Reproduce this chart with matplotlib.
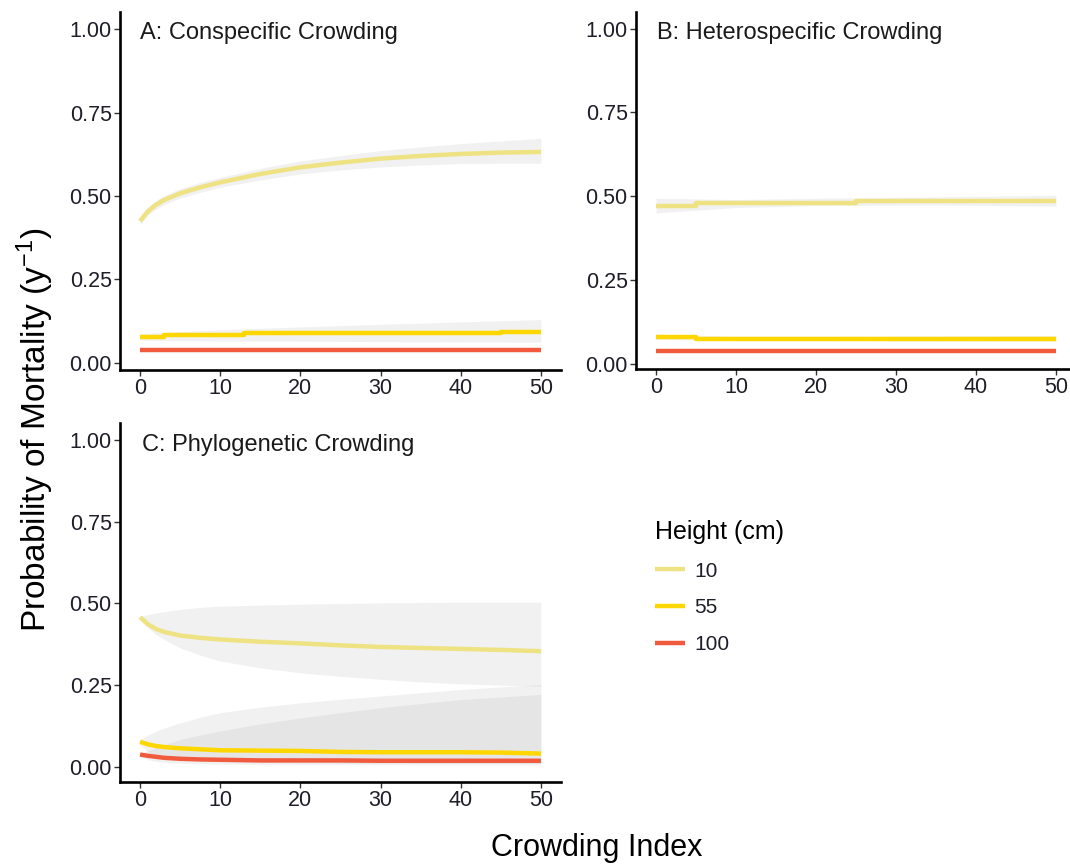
import matplotlib
matplotlib.use("Agg")
import matplotlib.pyplot as plt
import numpy as np

plt.rcParams['font.family'] = ['Liberation Sans', 'DejaVu Sans']
plt.rcParams['mathtext.fontset'] = 'custom'
plt.rcParams['mathtext.rm'] = 'Liberation Sans'
plt.rcParams['mathtext.it'] = 'Liberation Sans:italic'

# ---------------- data ----------------
heights = ["10", "55", "100"]
colors = ["#EFE283", "#FFD700", "#F15A3C"]

# Panel A: conspecific crowding
xa = [0, 1, 2, 3, 5, 7.5, 10, 15, 20, 25, 30, 35, 40, 45, 50]
a10 = [0.425, 0.455, 0.474, 0.488, 0.508, 0.526, 0.541, 0.566, 0.586, 0.600, 0.612, 0.620, 0.626, 0.630, 0.632]
a10_lo = [0.415, 0.443, 0.461, 0.474, 0.494, 0.511, 0.526, 0.548, 0.566, 0.578, 0.587, 0.593, 0.597, 0.598, 0.598]
a10_hi = [0.435, 0.467, 0.487, 0.502, 0.522, 0.541, 0.556, 0.583, 0.605, 0.621, 0.636, 0.647, 0.657, 0.665, 0.673]
xa55 = [0, 3, 13, 45, 50]
a55 = [0.078, 0.084, 0.089, 0.094, 0.094]
xa_r = [0, 10, 20, 30, 40, 50]
a55_lo = [0.068, 0.066, 0.065, 0.064, 0.063, 0.062]
a55_hi = [0.088, 0.100, 0.108, 0.116, 0.123, 0.130]
a100 = [0.039, 0.039, 0.039, 0.039, 0.039, 0.039]
a100_lo = [0.034, 0.034, 0.034, 0.034, 0.034, 0.034]
a100_hi = [0.044, 0.044, 0.044, 0.044, 0.044, 0.044]

# Panel B: heterospecific crowding
xb10 = [0, 5, 25, 50]
b10 = [0.472, 0.479, 0.485, 0.485]
xb_r = [0, 10, 20, 35, 50]
b10_lo = [0.450, 0.466, 0.472, 0.474, 0.470]
b10_hi = [0.494, 0.490, 0.494, 0.498, 0.503]
xb55 = [0, 5, 50]
b55 = [0.080, 0.075, 0.075]
b55_lo = [0.072, 0.069, 0.069, 0.068, 0.067]
b55_hi = [0.088, 0.082, 0.082, 0.083, 0.084]
b100 = [0.037, 0.037, 0.037, 0.037, 0.037]
b100_lo = [0.033, 0.033, 0.033, 0.033, 0.033]
b100_hi = [0.041, 0.041, 0.041, 0.041, 0.041]

# Panel C: phylogenetic crowding
xc = [0, 1, 2, 3, 5, 7.5, 10, 15, 20, 25, 30, 35, 40, 45, 50]
c10 = [0.458, 0.436, 0.422, 0.413, 0.402, 0.395, 0.390, 0.383, 0.378, 0.372, 0.367, 0.364, 0.361, 0.358, 0.354]
c10_lo = [0.455, 0.425, 0.405, 0.390, 0.364, 0.342, 0.324, 0.303, 0.288, 0.277, 0.268, 0.260, 0.254, 0.250, 0.247]
c10_hi = [0.461, 0.466, 0.471, 0.475, 0.482, 0.488, 0.492, 0.495, 0.498, 0.500, 0.502, 0.503, 0.504, 0.504, 0.504]
c55 = [0.077, 0.069, 0.064, 0.061, 0.057, 0.054, 0.051, 0.050, 0.049, 0.046, 0.045, 0.045, 0.045, 0.044, 0.041]
c55_lo = [0.070, 0.045, 0.035, 0.028, 0.022, 0.018, 0.016, 0.014, 0.013, 0.012, 0.012, 0.011, 0.011, 0.011, 0.010]
c55_hi = [0.084, 0.098, 0.110, 0.119, 0.135, 0.152, 0.166, 0.183, 0.196, 0.207, 0.217, 0.227, 0.237, 0.245, 0.252]
c100 = [0.038, 0.034, 0.031, 0.028, 0.025, 0.023, 0.022, 0.020, 0.020, 0.020, 0.019, 0.019, 0.019, 0.019, 0.019]
c100_lo = [0.034, 0.022, 0.017, 0.014, 0.011, 0.010, 0.009, 0.008, 0.008, 0.008, 0.007, 0.007, 0.007, 0.007, 0.007]
c100_hi = [0.042, 0.050, 0.060, 0.068, 0.084, 0.098, 0.110, 0.132, 0.150, 0.166, 0.181, 0.194, 0.206, 0.214, 0.222]

titles = ["A: Conspecific Crowding", "B: Heterospecific Crowding", "C: Phylogenetic Crowding"]
xticks = [0, 10, 20, 30, 40, 50]
yticks = [0.0, 0.25, 0.5, 0.75, 1.0]
ytick_labels = ["0.00", "0.25", "0.50", "0.75", "1.00"]

# ---------------- figure ----------------
W, H = 1070, 868
fig = plt.figure(figsize=(W / 100, H / 100), dpi=100)

def ax_at(l, t, r, b):
    return fig.add_axes([l / W, 1 - b / H, (r - l) / W, (b - t) / H])

axA = ax_at(120, 12, 561, 370)
axB = ax_at(636, 12, 1076, 369)
axC = ax_at(120, 423, 561, 782)

ylims = [(-0.021, 1.051), (-0.016, 1.050), (-0.046, 1.052)]
title_pos = [(0.0, 0.969), (0.1, 0.970), (0.2, 0.966)]

rib_kw = dict(color="#999999", alpha=0.13, linewidth=0)
line_kw = dict(linewidth=3.2, solid_capstyle="butt")

panels = [
    (axA,
     [(xa, a10_lo, a10_hi), (xa_r, a55_lo, a55_hi), (xa_r, a100_lo, a100_hi)],
     [(xa, a10, None), (xa55, a55, "steps-post"), (xa_r, a100, None)]),
    (axB,
     [(xb_r, b10_lo, b10_hi), (xb_r, b55_lo, b55_hi), (xb_r, b100_lo, b100_hi)],
     [(xb10, b10, "steps-post"), (xb55, b55, "steps-post"), (xb_r, b100, None)]),
    (axC,
     [(xc, c10_lo, c10_hi), (xc, c55_lo, c55_hi), (xc, c100_lo, c100_hi)],
     [(xc, c10, None), (xc, c55, None), (xc, c100, None)]),
]

handles = []
for i, (ax, ribbons, lines) in enumerate(panels):
    for (x, lo, hi) in ribbons:
        ax.fill_between(x, lo, hi, **rib_kw)
    for j, (x, y, ds) in enumerate(lines):
        kw = dict(line_kw)
        if ds:
            kw["drawstyle"] = ds
        ln, = ax.plot(x, y, color=colors[j], label=heights[j], **kw)
        if i == 0:
            handles.append(ln)
    ax.set_xlim(-2.5, 52.5)
    ax.set_ylim(*ylims[i])
    ax.set_xticks(xticks)
    ax.set_yticks(yticks)
    ax.set_yticklabels(ytick_labels)
    for s in ["top", "right"]:
        ax.spines[s].set_visible(False)
    for s in ["left", "bottom"]:
        ax.spines[s].set_linewidth(1.9)
        ax.spines[s].set_color("black")
    ax.tick_params(axis="both", direction="out", length=4, width=1.0,
                   color="#333333", labelsize=15.5, labelcolor="#1e1e28", pad=2)
    tx, ty = title_pos[i]
    ax.text(tx, ty, titles[i], fontsize=17, color="#1a1a1a",
            ha="left", va="baseline")

fig.text(35 / W, 1 - 430 / H, r"Probability of Mortality (y$^{-1}$)",
         rotation=90, fontsize=24, ha="center", va="center", color="black")
fig.text(597 / W, 1 - 848 / H, "Crowding Index", fontsize=22,
         ha="center", va="center", color="black")

leg = fig.legend(handles=handles, labels=heights, title="Height (cm)",
                 loc="upper left", bbox_to_anchor=(655 / W, 1 - 520 / H),
                 frameon=False, fontsize=15, title_fontsize=18,
                 handlelength=1.45, handletextpad=0.45, labelspacing=0.85,
                 borderpad=0, borderaxespad=0, alignment="left")
for t in leg.get_texts():
    t.set_color("#1e1e28")

fig.savefig("out.png", dpi=100)
